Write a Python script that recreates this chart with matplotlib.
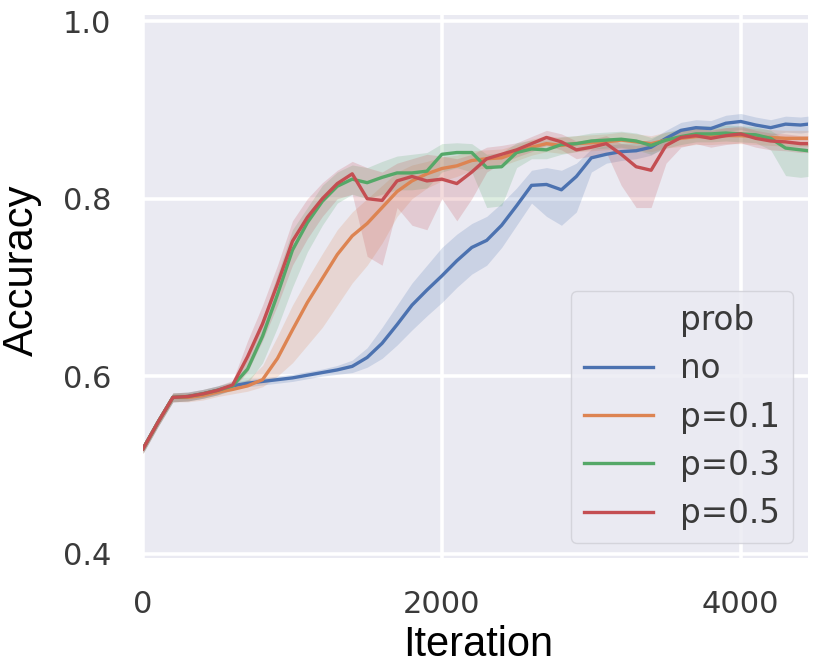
import matplotlib
matplotlib.use("Agg")
import matplotlib.pyplot as plt
from matplotlib.lines import Line2D

iterations = [0, 100, 200, 300, 400, 500, 600, 700, 800, 900, 1000, 1100, 1200, 1300, 1400,
              1500, 1600, 1700, 1800, 1900, 2000, 2100, 2200, 2300, 2400, 2500, 2600, 2700,
              2800, 2900, 3000, 3100, 3200, 3300, 3400, 3500, 3600, 3700, 3800, 3900, 4000,
              4100, 4200, 4300, 4400, 4450]

labels = ["no", "p=0.1", "p=0.3", "p=0.5"]
colors = ["#4C72B0", "#DD8452", "#55A868", "#C44E52"]

no_mean = [0.518, 0.548, 0.576, 0.577, 0.580, 0.584, 0.589, 0.592, 0.594, 0.596, 0.598, 0.601, 0.604, 0.607, 0.611,
           0.621, 0.637, 0.658, 0.680, 0.697, 0.713, 0.730, 0.745, 0.753, 0.770, 0.792, 0.815, 0.816,
           0.810, 0.825, 0.846, 0.850, 0.853, 0.854, 0.858, 0.868, 0.877, 0.880, 0.879, 0.885, 0.887,
           0.883, 0.880, 0.884, 0.883, 0.884]
no_lo = [0.513, 0.543, 0.571, 0.572, 0.575, 0.579, 0.585, 0.588, 0.590, 0.592, 0.594, 0.597, 0.600, 0.602, 0.604,
         0.610, 0.620, 0.635, 0.652, 0.668, 0.683, 0.700, 0.715, 0.725, 0.745, 0.770, 0.795, 0.780,
         0.770, 0.785, 0.830, 0.840, 0.843, 0.845, 0.849, 0.859, 0.868, 0.871, 0.870, 0.876, 0.878,
         0.874, 0.871, 0.875, 0.874, 0.875]
no_hi = [0.523, 0.553, 0.581, 0.582, 0.585, 0.589, 0.593, 0.596, 0.598, 0.600, 0.602, 0.605, 0.608, 0.612, 0.618,
         0.632, 0.655, 0.680, 0.705, 0.725, 0.745, 0.760, 0.772, 0.780, 0.795, 0.812, 0.832, 0.835,
         0.832, 0.840, 0.856, 0.860, 0.862, 0.863, 0.867, 0.877, 0.886, 0.889, 0.888, 0.894, 0.896,
         0.892, 0.889, 0.893, 0.892, 0.893]

p1_mean = [0.518, 0.548, 0.576, 0.576, 0.578, 0.582, 0.585, 0.589, 0.596, 0.620, 0.652, 0.683, 0.710, 0.737, 0.758,
           0.772, 0.790, 0.808, 0.820, 0.828, 0.834, 0.837, 0.843, 0.845, 0.846, 0.852, 0.858, 0.862,
           0.860, 0.862, 0.863, 0.864, 0.866, 0.864, 0.862, 0.866, 0.868, 0.870, 0.870, 0.871, 0.871,
           0.870, 0.869, 0.868, 0.868, 0.868]
p1_lo = [0.513, 0.543, 0.571, 0.571, 0.573, 0.577, 0.580, 0.583, 0.588, 0.600, 0.615, 0.635, 0.655, 0.680, 0.705,
         0.725, 0.750, 0.780, 0.800, 0.812, 0.820, 0.825, 0.832, 0.835, 0.837, 0.843, 0.849, 0.853,
         0.851, 0.853, 0.854, 0.855, 0.857, 0.855, 0.853, 0.857, 0.859, 0.861, 0.861, 0.862, 0.862,
         0.861, 0.860, 0.859, 0.859, 0.859]
p1_hi = [0.523, 0.553, 0.581, 0.581, 0.583, 0.587, 0.590, 0.596, 0.612, 0.645, 0.680, 0.710, 0.738, 0.765, 0.785,
         0.800, 0.815, 0.830, 0.838, 0.842, 0.847, 0.849, 0.854, 0.855, 0.856, 0.861, 0.867, 0.871,
         0.869, 0.871, 0.872, 0.873, 0.875, 0.873, 0.871, 0.875, 0.877, 0.879, 0.879, 0.880, 0.880,
         0.879, 0.878, 0.877, 0.877, 0.877]

p3_mean = [0.518, 0.548, 0.576, 0.577, 0.580, 0.584, 0.589, 0.608, 0.645, 0.692, 0.742, 0.773, 0.797, 0.814, 0.822,
           0.818, 0.824, 0.829, 0.829, 0.831, 0.850, 0.852, 0.852, 0.835, 0.836, 0.852, 0.856, 0.855,
           0.861, 0.862, 0.865, 0.866, 0.867, 0.865, 0.860, 0.866, 0.870, 0.873, 0.873, 0.874, 0.873,
           0.872, 0.868, 0.857, 0.855, 0.854]
p3_lo = [0.513, 0.543, 0.571, 0.572, 0.575, 0.579, 0.584, 0.592, 0.615, 0.655, 0.700, 0.740, 0.770, 0.795, 0.805,
         0.800, 0.805, 0.810, 0.810, 0.812, 0.830, 0.835, 0.830, 0.790, 0.792, 0.835, 0.845, 0.845,
         0.850, 0.853, 0.856, 0.857, 0.858, 0.855, 0.850, 0.857, 0.861, 0.864, 0.864, 0.865, 0.864,
         0.863, 0.855, 0.826, 0.824, 0.825]
p3_hi = [0.523, 0.553, 0.581, 0.582, 0.585, 0.589, 0.594, 0.620, 0.665, 0.715, 0.765, 0.790, 0.815, 0.830, 0.838,
         0.835, 0.842, 0.848, 0.850, 0.852, 0.862, 0.863, 0.862, 0.850, 0.852, 0.863, 0.866, 0.866,
         0.870, 0.871, 0.874, 0.875, 0.876, 0.874, 0.869, 0.875, 0.879, 0.882, 0.882, 0.883, 0.882,
         0.881, 0.877, 0.866, 0.864, 0.863]

p5_mean = [0.518, 0.548, 0.576, 0.577, 0.580, 0.584, 0.590, 0.622, 0.659, 0.704, 0.752, 0.779, 0.800, 0.817, 0.828,
           0.800, 0.798, 0.820, 0.825, 0.820, 0.822, 0.817, 0.830, 0.845, 0.850, 0.855, 0.862, 0.869,
           0.864, 0.855, 0.858, 0.862, 0.850, 0.836, 0.832, 0.860, 0.869, 0.871, 0.868, 0.871, 0.873,
           0.868, 0.865, 0.864, 0.862, 0.862]
p5_lo = [0.513, 0.543, 0.571, 0.572, 0.575, 0.579, 0.585, 0.605, 0.640, 0.680, 0.725, 0.755, 0.780, 0.800, 0.805,
         0.735, 0.725, 0.790, 0.770, 0.765, 0.800, 0.775, 0.800, 0.830, 0.840, 0.847, 0.853, 0.860,
         0.855, 0.845, 0.848, 0.852, 0.815, 0.790, 0.790, 0.840, 0.858, 0.862, 0.858, 0.861, 0.863,
         0.858, 0.855, 0.854, 0.852, 0.852]
p5_hi = [0.523, 0.553, 0.581, 0.582, 0.585, 0.589, 0.595, 0.640, 0.680, 0.725, 0.775, 0.800, 0.818, 0.832, 0.842,
         0.835, 0.830, 0.840, 0.845, 0.850, 0.848, 0.845, 0.850, 0.858, 0.860, 0.863, 0.870, 0.877,
         0.873, 0.865, 0.867, 0.871, 0.862, 0.860, 0.862, 0.870, 0.878, 0.880, 0.877, 0.880, 0.882,
         0.877, 0.874, 0.873, 0.871, 0.871]

means = [no_mean, p1_mean, p3_mean, p5_mean]
lows = [no_lo, p1_lo, p3_lo, p5_lo]
highs = [no_hi, p1_hi, p3_hi, p5_hi]

fig = plt.figure(figsize=(8.3, 6.66), dpi=100)
ax = fig.add_axes([143 / 830, 1 - 558 / 666, (808 - 143) / 830, (558 - 15) / 666])
ax.set_facecolor("#EAEAF2")
for s in ax.spines.values():
    s.set_visible(False)
ax.grid(True, color="white", linewidth=2.6)
ax.set_axisbelow(True)

for m, lo, hi, c, lab in zip(means, lows, highs, colors, labels):
    ax.fill_between(iterations, lo, hi, color=c, alpha=0.2, linewidth=0)
    ax.plot(iterations, m, color=c, linewidth=2.4, label=lab)

ax.set_xlim(0, iterations[-1])
ax.set_ylim(0.395, 1.007)
ax.set_xticks([0, 2000, 4000])
ax.set_yticks([0.4, 0.6, 0.8, 1.0])
ax.set_yticklabels(["0.4", "0.6", "0.8", "1.0"])
ax.tick_params(axis="both", length=0, labelsize=22, labelcolor="#3a3a3a", pad=23)

fig.text(22 / 830, 1 - 270 / 666, "Accuracy", rotation=90, ha="center", va="center",
         fontsize=30, family="Liberation Sans", color="black")
fig.text(478 / 830, 1 - 645 / 666, "Iteration", ha="center", va="center",
         fontsize=30, family="Liberation Sans", color="black")

handles = [Line2D([], [], color="none", linewidth=0)]
handles += [Line2D([], [], color=c, linewidth=2.4) for c in colors]
leg = ax.legend(handles, ["prob"] + labels, loc="lower right", fontsize=23.5,
                labelspacing=0.47, handlelength=2.1, handletextpad=0.85,
                borderpad=0.4, borderaxespad=0.45, facecolor="#EAEAF2",
                edgecolor="#cfcfd6", framealpha=0.8, fancybox=True)
for t in leg.get_texts():
    t.set_color("#3a3a3a")

fig.savefig("out.png", dpi=100)
